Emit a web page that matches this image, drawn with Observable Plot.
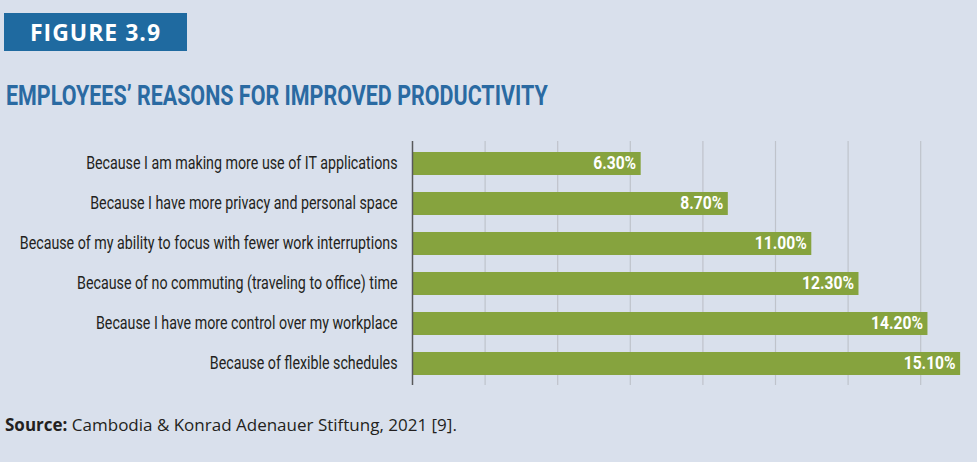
<!DOCTYPE html>
<html>
<head>
<meta charset="utf-8">
<script src="https://cdn.jsdelivr.net/npm/d3@7"></script>
<script src="https://cdn.jsdelivr.net/npm/@observablehq/plot@0.6"></script>
<style>
  html, body { margin: 0; padding: 0; background: #d9e0ec; }
  #page { position: relative; width: 977px; height: 462px; background: #d9e0ec; overflow: hidden; }
  #fig { position: absolute; left: 4px; top: 13px; width: 183px; height: 38px; background: #1f6aa0;
         color: #fff; font: bold 23px "Open Sans", sans-serif; line-height: 38px; text-align: center; letter-spacing: 1px; }
  #title { position: absolute; left: 6px; top: 81px; color: #2a6aa2; font-family: Roboto, sans-serif;
           font-weight: bold; font-size: 28px; line-height: 30px; white-space: nowrap; transform-origin: 0 50%; }
  #chart { position: absolute; left: 0; top: 120px; }
  #source { position: absolute; left: 5px; top: 413px; font: 17px "Open Sans", sans-serif; color: #231f20; white-space: nowrap; }
  #source b { font-weight: bold; }
</style>
</head>
<body>
<div id="page">
  <div id="fig">FIGURE 3.9</div>
  <div id="title">EMPLOYEES’ REASONS FOR IMPROVED PRODUCTIVITY</div>
  <div id="chart"></div>
  <div id="source"><b>Source:</b> Cambodia &amp; Konrad Adenauer Stiftung, 2021 [9].</div>
</div>
<script>
const reasons = [
  "Because I am making more use of IT applications",
  "Because I have more privacy and personal space",
  "Because of my ability to focus with fewer work interruptions",
  "Because of no commuting (traveling to office) time",
  "Because I have more control over my workplace",
  "Because of flexible schedules"
];
const shares = [6.3, 8.7, 11.0, 12.3, 14.2, 15.1];
const valueLabels = ["6.30%", "8.70%", "11.00%", "12.30%", "14.20%", "15.10%"];
const gridTicks = [0, 2, 4, 6, 8, 10, 12, 14];

const data = reasons.map((r, i) => ({reason: r, value: shares[i], label: valueLabels[i]}));

const chart = Plot.plot({
  width: 977,
  height: 280,
  marginLeft: 412,
  marginRight: 0,
  marginTop: 21,
  marginBottom: 15,
  style: {background: "transparent", fontFamily: "Roboto, sans-serif", overflow: "visible"},
  x: {domain: [0, 15.565], axis: null},
  y: {domain: reasons, paddingInner: 0.435, paddingOuter: 0.25, axis: null},
  marks: [
    Plot.ruleX(gridTicks.filter(d => d > 0), {stroke: "#bfc3cb", strokeWidth: 1.2}),
    Plot.barX(data, {y: "reason", x: "value", fill: "#86a33e"}),
    Plot.ruleX([0], {stroke: "#58595b", strokeWidth: 1.5}),
    Plot.text(data, {y: "reason", x: 0, text: "reason", textAnchor: "end", dx: -15, dy: -1, fill: "#231f20", fontSize: 19, className: "ylab"}),
    Plot.text(data, {y: "reason", x: "value", text: "label", textAnchor: "end", dx: -5, dy: -1, fill: "#fff", fontWeight: "bold", fontSize: 19, className: "vlab"})
  ]
});
document.getElementById("chart").appendChild(chart);

// condense text horizontally to mimic a condensed typeface
function condense(sel, longestWidth) {
  const nodes = Array.from(chart.querySelectorAll(sel + " text"));
  const maxW = Math.max(...nodes.map(n => n.getComputedTextLength()));
  const s = longestWidth / maxW;
  nodes.forEach(n => {
    const t = n.getAttribute("transform");
    if (t) n.setAttribute("transform", t + ` scale(${s},1)`);
    else {
      const x = +n.getAttribute("x") || 0, y = +n.getAttribute("y") || 0;
      n.removeAttribute("x"); n.removeAttribute("y");
      n.setAttribute("transform", `translate(${x},${y}) scale(${s},1)`);
    }
  });
}
condense(".ylab", 378);
condense(".vlab", 52);

const title = document.getElementById("title");
title.style.transform = `scaleX(${542 / title.scrollWidth})`;
</script>
</body>
</html>
